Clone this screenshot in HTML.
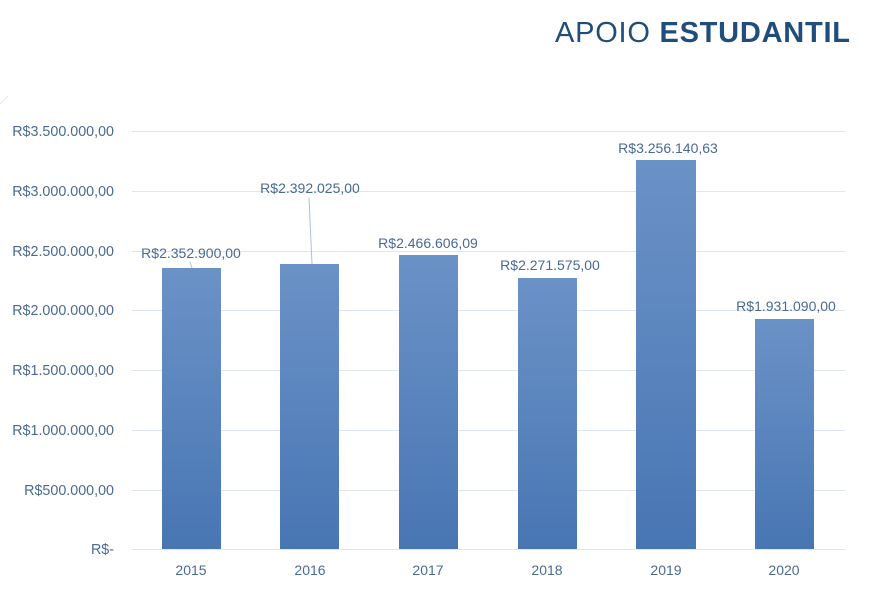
<!DOCTYPE html>
<html><head><meta charset="utf-8"><style>
body{margin:0;background:#fff;}
svg{display:block;font-family:"Liberation Sans",sans-serif;}
</style></head><body>
<svg width="885" height="600" xmlns="http://www.w3.org/2000/svg">
<defs><linearGradient id="g" x1="0" y1="0" x2="0" y2="1"><stop offset="0" stop-color="#6b92c7"/><stop offset="1" stop-color="#4876b3"/></linearGradient></defs>
<text x="555" y="42" font-size="29" fill="#1f4e7d" textLength="295" lengthAdjust="spacing"><tspan>APOIO </tspan><tspan font-weight="bold">ESTUDANTIL</tspan></text>
<line x1="0" y1="104" x2="8" y2="96" stroke="#e6e9ee" stroke-width="1"/>
<g stroke="#dfe6f0" stroke-width="1">
<line x1="132" y1="131.5" x2="845" y2="131.5"/><line x1="132" y1="191.5" x2="845" y2="191.5"/>
<line x1="132" y1="251.5" x2="845" y2="251.5"/><line x1="132" y1="310.5" x2="845" y2="310.5"/>
<line x1="132" y1="370.5" x2="845" y2="370.5"/><line x1="132" y1="430.5" x2="845" y2="430.5"/>
<line x1="132" y1="490.5" x2="845" y2="490.5"/><line x1="132" y1="549.5" x2="845" y2="549.5"/>
</g>
<g font-size="14.3" fill="#4a6a94" text-anchor="end">
<text x="114" y="136">R$3.500.000,00</text><text x="114" y="196">R$3.000.000,00</text>
<text x="114" y="256">R$2.500.000,00</text><text x="114" y="315">R$2.000.000,00</text>
<text x="114" y="375">R$1.500.000,00</text><text x="114" y="435">R$1.000.000,00</text>
<text x="114" y="495">R$500.000,00</text><text x="114" y="554">R$-</text>
</g>
<g fill="url(#g)">
<rect x="162" y="268" width="59" height="281"/>
<rect x="280" y="264" width="59" height="285"/>
<rect x="399" y="255" width="59" height="294"/>
<rect x="518" y="278" width="59" height="271"/>
<rect x="636" y="160" width="60" height="389"/>
<rect x="755" y="319" width="59" height="230"/>
</g>
<line x1="190" y1="262" x2="192" y2="268" stroke="#a9c0dc"/>
<line x1="309" y1="198" x2="312" y2="264" stroke="#a9c0dc"/>
<g font-size="14" fill="#4a6a94" text-anchor="middle">
<text x="191" y="258">R$2.352.900,00</text>
<text x="310" y="193">R$2.392.025,00</text>
<text x="428" y="248">R$2.466.606,09</text>
<text x="550" y="270">R$2.271.575,00</text>
<text x="668" y="153">R$3.256.140,63</text>
<text x="786" y="311">R$1.931.090,00</text>
<text x="191" y="575">2015</text><text x="310" y="575">2016</text>
<text x="428" y="575">2017</text><text x="547" y="575">2018</text>
<text x="666" y="575">2019</text><text x="784" y="575">2020</text>
</g>
</svg>
</body></html>
